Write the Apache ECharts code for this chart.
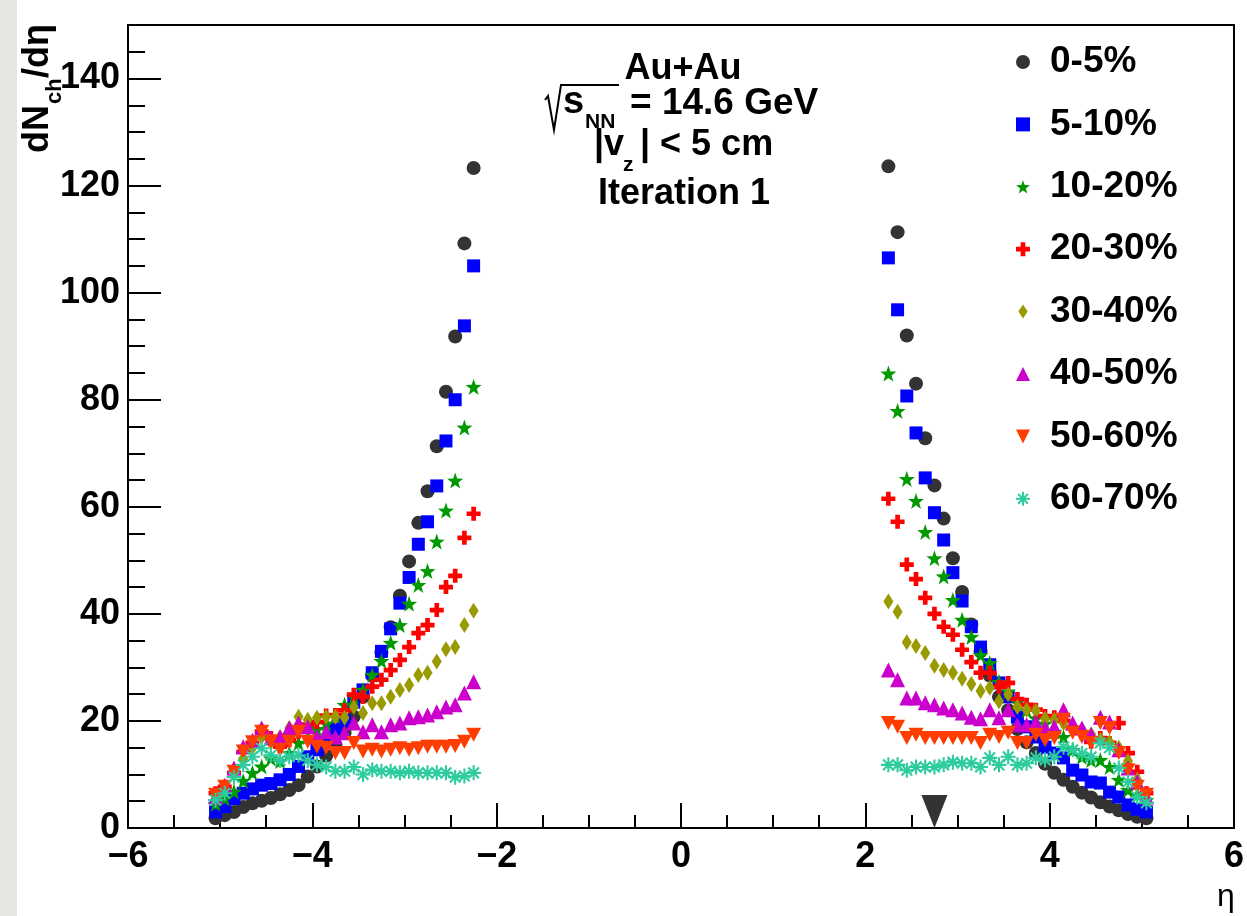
<!DOCTYPE html>
<html><head><meta charset="utf-8">
<script src="https://cdn.jsdelivr.net/npm/echarts@6/dist/echarts.min.js"></script>
<style>html,body{margin:0;padding:0;background:#fff}#chart{width:1247px;height:916px}</style>
</head><body><div id="chart"></div>
<script>
// ---------- data ----------
const etaLeft  = [-5.05,-4.95,-4.85,-4.75,-4.65,-4.55,-4.45,-4.35,-4.25,-4.15,-4.05,-3.95,-3.85,-3.75,-3.65,-3.55,-3.45,-3.35,-3.25,-3.15,-3.05,-2.95,-2.85,-2.75,-2.65,-2.55,-2.45,-2.35,-2.25];
const etaRight = [2.25,2.35,2.45,2.55,2.65,2.75,2.85,2.95,3.05,3.15,3.25,3.35,3.45,3.55,3.65,3.75,3.85,3.95,4.05,4.15,4.25,4.35,4.45,4.55,4.65,4.75,4.85,4.95,5.05];
const centralityNames = ['0-5%','5-10%','10-20%','20-30%','30-40%','40-50%','50-60%','60-70%'];

const c0_5_L   = [1.8,2.4,3.0,3.9,4.6,5.1,5.6,6.3,7.1,8.0,9.6,11.5,13.5,15.5,17.8,20.8,24.5,28.5,32.8,37.5,43.4,49.8,57.0,62.9,71.3,81.5,91.8,109.2,123.3];
const c5_10_L  = [3.0,4.0,5.5,6.5,7.3,8.0,8.3,9.0,10.0,11.5,13.3,14.6,16.0,18.5,20.0,23.5,25.8,29.0,33.0,37.2,42.0,46.8,53.0,57.2,63.9,72.3,80.0,93.8,105.0];
const c10_20_L = [4.5,5.5,6.8,8.8,10.3,11.5,13.0,12.5,14.0,15.9,17.0,18.5,19.5,21.0,23.0,24.5,25.8,28.6,31.2,34.6,37.9,41.9,45.4,48.0,53.5,59.3,64.9,74.8,82.4];
const c20_30_L = [6.5,7.7,10.3,14.2,15.9,18.0,16.8,15.2,16.4,18.0,19.3,19.8,21.0,21.1,22.0,24.9,24.5,26.4,27.7,29.5,31.4,33.8,36.4,37.9,40.7,45.0,47.1,54.2,58.7];
const c30_40_L = [6.0,7.5,10.0,13.0,15.0,17.0,16.0,17.0,18.7,20.8,20.2,20.6,20.8,20.8,20.6,22.6,21.5,23.3,23.3,24.5,25.8,26.7,28.6,29.0,31.1,33.4,33.8,37.9,40.6];
const c40_50_L = [5.8,8.0,11.2,15.2,16.4,18.7,16.8,17.0,18.7,19.6,18.9,17.0,18.0,17.0,17.8,19.6,18.0,19.3,18.0,19.3,19.6,20.6,20.8,21.1,21.7,22.6,23.0,25.2,27.3];
const c50_60_L = [6.2,7.7,10.5,14.3,16.0,18.0,16.2,14.6,16.1,18.0,16.1,15.2,15.0,14.0,14.0,15.9,14.3,14.6,14.3,14.6,14.9,14.6,14.9,15.2,15.2,15.2,15.3,16.1,17.4];
const c60_70_L = [5.2,6.5,9.5,11.8,13.3,14.9,13.6,12.6,13.3,13.6,12.6,11.8,11.4,10.6,10.6,11.4,10.0,10.9,10.6,10.6,10.3,10.6,10.3,10.3,10.3,10.3,9.5,9.7,10.3];

const c0_5_R   = [123.6,111.3,92.0,83.0,72.8,64.0,57.8,50.4,44.1,38.0,33.0,28.5,24.5,22.0,18.5,16.0,14.0,12.0,10.3,9.0,7.7,6.6,5.7,4.8,4.0,3.3,2.6,2.1,1.8];
const c5_10_R  = [106.5,96.8,80.7,73.8,65.4,58.9,53.8,47.7,42.4,37.6,33.8,30.5,27.1,24.5,20.7,18.9,17.0,15.1,14.0,13.1,10.8,9.9,8.6,8.4,6.7,5.8,4.3,3.5,3.0];
const c10_20_R = [84.9,77.9,65.2,61.1,55.3,50.4,47.0,42.6,38.9,35.7,32.3,30.8,27.3,25.5,23.5,22.0,20.5,19.5,18.0,17.0,14.6,13.3,12.7,12.7,11.4,9.0,7.1,6.2,5.2];
const c20_30_R = [61.5,57.2,49.2,46.5,43.0,40.0,37.6,36.1,33.3,31.0,29.0,29.0,26.4,27.1,24.1,23.0,22.1,20.9,20.7,20.0,18.7,17.8,16.1,16.8,15.9,19.6,14.0,10.5,6.5];
const c30_40_R = [42.3,40.4,34.7,34.0,32.7,30.3,29.5,29.0,27.9,26.9,25.6,26.2,23.7,25.0,22.6,22.1,21.9,20.4,20.2,19.6,18.9,18.3,17.5,16.5,16.0,15.0,12.5,9.0,5.5];
const c40_50_R = [29.5,27.7,24.3,24.3,23.4,23.0,22.4,22.1,21.5,20.7,20.4,22.1,20.6,22.1,19.3,19.3,19.8,18.7,18.9,22.1,19.6,18.7,17.4,20.7,19.8,14.6,11.2,8.6,5.8];
const c50_60_R = [19.6,18.9,16.8,17.4,16.8,16.8,16.8,16.8,16.8,16.8,15.9,17.4,17.0,17.8,15.9,15.9,17.4,16.4,16.8,20.2,17.8,17.0,15.9,19.6,18.7,14.0,10.8,7.7,6.2];
const c60_70_R = [11.8,11.8,10.8,11.4,11.4,11.4,11.8,12.3,12.1,12.1,11.4,13.1,11.8,13.3,11.8,12.1,13.1,12.7,13.3,15.1,14.6,13.9,13.3,15.9,15.0,11.2,8.6,5.8,4.7];

const arrowEta = [2.75];

// ---------- build ----------
const leftVals  = [c0_5_L,c5_10_L,c10_20_L,c20_30_L,c30_40_L,c40_50_L,c50_60_L,c60_70_L];
const rightVals = [c0_5_R,c5_10_R,c10_20_R,c20_30_R,c30_40_R,c40_50_R,c50_60_R,c60_70_R];

function starPath(){
  let s='path://';
  for(let k=0;k<10;k++){
    const a=(-90+36*k)*Math.PI/180, r=(k%2===0)?10:4;
    s+=(k===0?'M':'L')+(r*Math.cos(a)).toFixed(2)+','+(r*Math.sin(a)).toFixed(2);
  }
  return s+'Z';
}
function asteriskPath(){
  let s='path://';
  const L=10,w=1.4;
  [0,45,90,135].forEach(d=>{
    const a=d*Math.PI/180,c=Math.cos(a),sn=Math.sin(a);
    const pts=[[-L,-w],[L,-w],[L,w],[-L,w]].map(p=>[p[0]*c-p[1]*sn,p[0]*sn+p[1]*c]);
    s+='M'+pts.map(p=>p[0].toFixed(2)+','+p[1].toFixed(2)).join('L')+'Z';
  });
  return s;
}
const PLUS='path://M-1,-3L1,-3L1,-1L3,-1L3,1L1,1L1,3L-1,3L-1,1L-3,1L-3,-1L-1,-1Z';
const DIAMOND='path://M0,-3L2,0L0,3L-2,0Z';
const DOWNTRI='path://M-1,-1L1,-1L0,1Z';
const symbols=['circle','rect',starPath(),PLUS,DIAMOND,'triangle',DOWNTRI,asteriskPath()];
const sizes=[14,13,16,14,[10,16],15,[15,14],15];
const colors=['#333333','#0000ff','#009900','#ff0000','#999900','#cc00cc','#ff3d00','#2ccc9f'];

const FONT="'Liberation Sans', Arial, Helvetica, sans-serif";

const series = centralityNames.map((name,i)=>({
  name, type:'scatter',
  symbol:symbols[i], symbolSize:sizes[i],
  itemStyle:{color:colors[i], opacity:1},
  data: etaLeft.map((x,j)=>[x,leftVals[i][j]]).concat(etaRight.map((x,j)=>[x,rightVals[i][j]])),
  z: 2+i, silent:true
}));
series.push({
  name:'arrow', type:'scatter', symbol:DOWNTRI, symbolSize:[26,33],
  symbolOffset:[0,-16.5], itemStyle:{color:'#000'}, data: arrowEta.map(x=>[x,0]), clip:false, silent:true, z:20
});

const tickStyle={color:'#000',width:2};
const option={
  animation:false,
  backgroundColor:'#fff',
  grid:{left:128,right:10,top:25,bottom:88,show:true,borderColor:'#000',borderWidth:2,backgroundColor:'#fff'},
  xAxis:[
    {type:'value',min:-6,max:6,interval:2,position:'bottom',
     axisLine:{show:true,onZero:false,lineStyle:{color:'#000',width:2}},
     axisTick:{show:true,inside:true,length:25,lineStyle:tickStyle},
     axisLabel:{show:true,margin:11,color:'#000',fontSize:36,fontWeight:'bold',fontFamily:FONT,
       formatter:v=>v<0?'\u2212'+Math.abs(v):String(v)},
     splitLine:{show:false}},
    {type:'value',min:-6,max:6,interval:0.5,position:'bottom',offset:0,
     axisLine:{show:false,onZero:false},axisTick:{show:true,inside:true,length:13,lineStyle:tickStyle},
     axisLabel:{show:false},splitLine:{show:false}}
  ],
  yAxis:[
    {type:'value',min:0,max:150,interval:20,position:'left',
     axisLine:{show:true,onZero:false,lineStyle:{color:'#000',width:2}},
     axisTick:{show:true,inside:true,length:33,lineStyle:tickStyle},
     axisLabel:{show:true,margin:8,showMaxLabel:false,color:'#000',fontSize:36,fontWeight:'bold',fontFamily:FONT},
     splitLine:{show:false}},
    {type:'value',min:0,max:150,interval:5,position:'left',offset:0,
     axisLine:{show:false,onZero:false},axisTick:{show:true,inside:true,length:17,lineStyle:tickStyle},
     axisLabel:{show:false},splitLine:{show:false}}
  ],
  legend:{
    data:centralityNames, orient:'vertical', left:1011, top:37,
    itemWidth:14, itemHeight:14, itemGap:22.4, selectedMode:false,
    textStyle:{fontSize:37,fontWeight:'bold',fontFamily:FONT,color:'#000',lineHeight:40,padding:[0,0,0,15]}
  },
  graphic:[
    {type:'rect',left:0,top:0,shape:{width:17,height:916},style:{fill:'#e7e5e2'},silent:true,z:-1},
    // y axis title
    {type:'text',x:38.5,y:153,rotation:Math.PI/2,style:{text:'dN',font:'bold 36px '+FONT,fill:'#000',align:'left',verticalAlign:'middle'}},
    {type:'text',x:55,y:104,rotation:Math.PI/2,style:{text:'ch',font:'bold 22px '+FONT,fill:'#000',align:'left',verticalAlign:'middle'}},
    {type:'text',x:38.5,y:78,rotation:Math.PI/2,style:{text:'/d\u03b7',font:'bold 36px '+FONT,fill:'#000',align:'left',verticalAlign:'middle'}},
    // x axis title
    {type:'text',x:1226,y:897,style:{text:'\u03b7',font:'32px '+FONT,fill:'#000',align:'center',verticalAlign:'middle'}},
    // annotation
    {type:'text',x:683,y:69.5,style:{text:'Au+Au',font:'bold 36px '+FONT,fill:'#000',align:'center',verticalAlign:'middle'}},
    {type:'polyline',shape:{points:[[545,100],[548,96],[554,130],[561,85],[619,85]]},style:{stroke:'#000',lineWidth:2,fill:null}},
    {type:'text',x:563,y:103,style:{text:'s',font:'bold 38px '+FONT,fill:'#000',align:'left',verticalAlign:'middle'}},
    {type:'text',x:585,y:122.7,style:{text:'NN',font:'bold 21px '+FONT,fill:'#000',align:'left',verticalAlign:'middle'}},
    {type:'text',x:630,y:103.5,style:{text:'= 14.6 GeV',font:'bold 37px '+FONT,fill:'#000',align:'left',verticalAlign:'middle'}},
    {type:'text',x:594,y:145.5,style:{text:'|v',font:'bold 36px '+FONT,fill:'#000',align:'left',verticalAlign:'middle'}},
    {type:'text',x:623,y:165.7,style:{text:'z',font:'bold 21px '+FONT,fill:'#000',align:'left',verticalAlign:'middle'}},
    {type:'text',x:640,y:145.5,style:{text:'| < 5 cm',font:'bold 36px '+FONT,fill:'#000',align:'left',verticalAlign:'middle'}},
    {type:'text',x:684,y:194.5,style:{text:'Iteration 1',font:'bold 36px '+FONT,fill:'#000',align:'center',verticalAlign:'middle'}}
  ],
  series
};
const chart=echarts.init(document.getElementById('chart'),null,{renderer:'canvas'});
chart.setOption(option);
</script>
</body></html>
